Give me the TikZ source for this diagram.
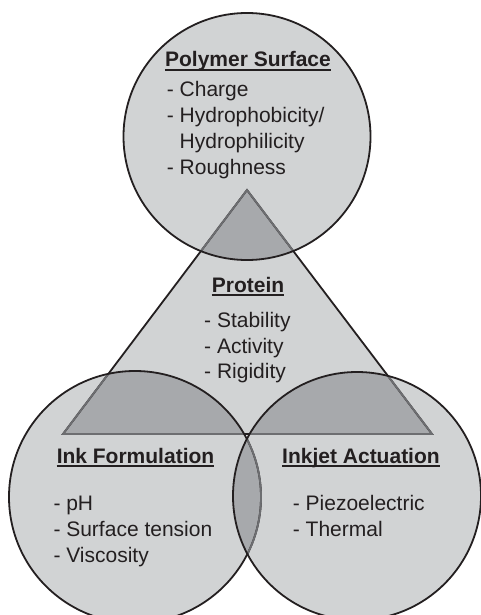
\documentclass[tikz,border=0pt]{standalone}
\usepackage{fontspec}
\setmainfont{Liberation Sans}
\usepackage{tikz}
\usetikzlibrary{calc}
\definecolor{ink}{HTML}{231F20}
\definecolor{lite}{HTML}{D1D3D4}
\definecolor{mid}{HTML}{A7A9AC}
\definecolor{soft}{HTML}{6D6E71}
\newcommand{\TopC}{(247,136.5) circle [radius=123.5pt]}
\newcommand{\LeftC}{(135,497) circle [radius=126pt]}
\newcommand{\RightC}{(357,496) circle [radius=124pt]}
\newcommand{\Tri}{(247,190) -- (432,434) -- (63,434) -- cycle}

\begin{document}
\begin{tikzpicture}[x=1pt,y=-1pt,
	outline/.style={draw=ink, line width=1.8pt},
	faint/.style={draw=soft, line width=1.8pt},
	txt/.style={inner sep=0pt, text=ink, font=\fontsize{21}{26}\selectfont},
	hd/.style={txt, font=\fontsize{21}{26}\selectfont\bfseries},
	rule/.style={draw=ink, line width=1.7pt}]
	\useasboundingbox (0,0) rectangle (481,615);
	\clip (0,0) rectangle (481,615);
	
	% fills
	\fill[lite] \Tri;
	\fill[lite] \TopC \LeftC \RightC;
	\begin{scope}
		\clip \Tri;
		\fill[mid] \TopC \LeftC \RightC;
	\end{scope}
	\begin{scope}
		\clip \LeftC;
		\fill[mid] \RightC;
	\end{scope}
	
	% outlines
	\draw[outline, line join=miter] \Tri;
	\begin{scope}
		\clip \TopC \LeftC \RightC;
		\draw[faint] \Tri;
	\end{scope}
	\draw[outline] \LeftC;
	\begin{scope}
		\clip \RightC;
		\draw[faint] \LeftC;
	\end{scope}
	\draw[outline] \RightC;
	\draw[outline] \TopC;
	
	% polymer surface
	\node[hd, anchor=base] (0) at (248,67) {Polymer Surface};
	\node[txt, anchor=base west] (1) at (166.7,97) {- Charge};
	\node[txt, anchor=base west] (2) at (166.7,122.5) {- Hydrophobicity/};
	\node[txt, anchor=base west] (3) at (166.7,148) {\phantom{- }Hydrophilicity};
	\node[txt, anchor=base west] (4) at (166.7,174) {- Roughness};
	
	% protein
	\node[hd, anchor=base] (5) at (248,292) {Protein};
	\node[txt, anchor=base west] (6) at (204,327) {- Stability};
	\node[txt, anchor=base west] (7) at (204,353) {- Activity};
	\node[txt, anchor=base west] (8) at (204,378.5) {- Rigidity};
	
	% ink formulation
	\node[hd, anchor=base] (9) at (135.5,463) {Ink Formulation};
	\node[txt, anchor=base west] (10) at (53.3,510) {- pH};
	\node[txt, anchor=base west] (11) at (53.3,536) {- Surface tension};
	\node[txt, anchor=base west] (12) at (53.3,562) {- Viscosity};
	
	% inkjet actuation
	\node[hd, anchor=base] (13) at (361,463) {Inkjet Actuation};
	\node[txt, anchor=base west] (14) at (292.7,510) {- Piezoelectric};
	\node[txt, anchor=base west] (15) at (292.7,536) {- Thermal};
	
	\draw[rule] ([yshift=-3pt]0.base west) -- ([yshift=-3pt]0.base east);
	\draw[rule] ([yshift=-3pt]5.base west) -- ([yshift=-3pt]5.base east);
	\draw[rule] ([yshift=-3pt]9.base west) -- ([yshift=-3pt]9.base east);
	\draw[rule] ([yshift=-3pt]13.base west) -- ([yshift=-3pt]13.base east);
\end{tikzpicture}
\end{document}
